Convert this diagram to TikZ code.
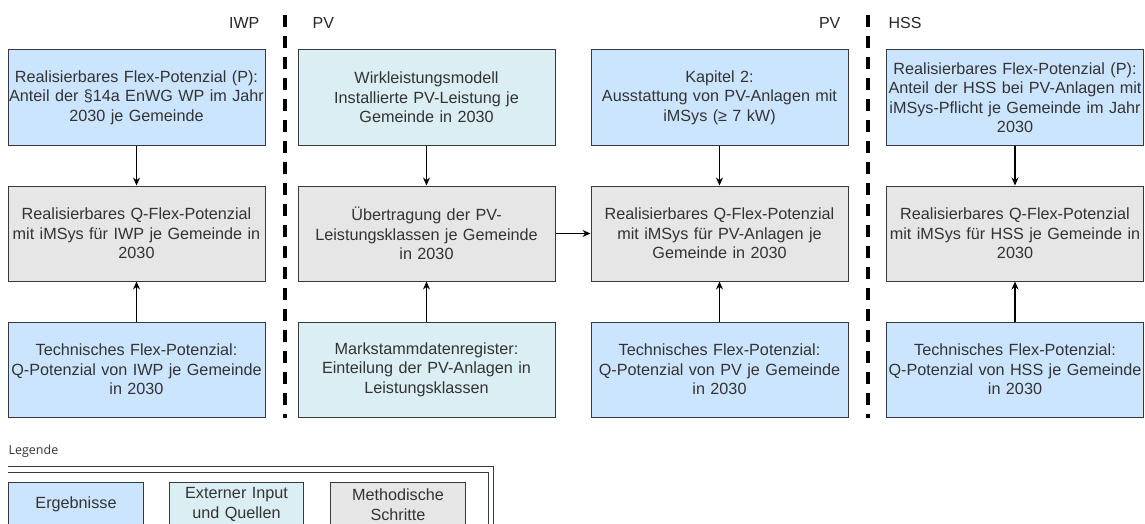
\documentclass[tikz,border=0pt]{standalone}
\usepackage{fontspec}
\setmainfont{Liberation Sans}
\newfontfamily\legfont{Open Sans}
\usetikzlibrary{arrows,arrows.meta,positioning}
\definecolor{ergblau}{HTML}{CCE5FF}
\definecolor{inputblau}{HTML}{DAEEF3}
\definecolor{methgrau}{HTML}{E6E6E6}
\definecolor{rand}{HTML}{36393D}

\begin{document}
\begin{tikzpicture}[x=1pt,y=-1pt,->,>={Stealth[length=8pt,width=7pt]},line width=1.2pt,
node distance=40pt]
\tikzstyle{box}=[rectangle,draw=rand,line width=1pt,minimum width=257pt,
minimum height=95pt,text width=255pt,align=center,inner sep=0pt,
font=\fontsize{16.2}{19.5}\selectfont,text=black!80]
\tikzstyle{ergebnis}=[box,fill=ergblau]
\tikzstyle{quelle}=[box,fill=inputblau]
\tikzstyle{methode}=[box,fill=methgrau]
\tikzstyle{spalte}=[font=\fontsize{16}{18}\selectfont,text=black!85,inner sep=0pt]
\tikzstyle{trenner}=[-,line width=4pt,dash pattern=on 12pt off 9pt]

\useasboundingbox (0,0) rectangle (1145,524);
\clip (0,0) rectangle (1145,524);

% IWP
\node[ergebnis] (iwpP) at (136.5,97.5) {Realisierbares Flex-Potenzial (P):\\Anteil der §14a EnWG WP im Jahr\\2030 je Gemeinde};
\node[methode]  (iwpQ) [below=of iwpP] {Realisierbares Q-Flex-Potenzial\\mit iMSys für IWP je Gemeinde in\\2030};
\node[ergebnis] (iwpT) [below=of iwpQ] {Technisches Flex-Potenzial:\\Q-Potenzial von IWP je Gemeinde\\in 2030};

% PV Input
\node[quelle]   (pvWirk) at (426.5,97.5) {Wirkleistungsmodell\\Installierte PV-Leistung je\\Gemeinde in 2030};
\node[methode]  (pvUeb)  [below=of pvWirk] {Übertragung der PV-\\Leistungsklassen je Gemeinde\\in 2030};
\node[quelle]   (pvMaStR) [below=of pvUeb] {Markstammdatenregister:\\Einteilung der PV-Anlagen in\\Leistungsklassen};

% PV
\node[ergebnis] (pvKap) at (719.5,97.5) {Kapitel 2:\\Ausstattung von PV-Anlagen mit\\iMSys (≥ 7 kW)};
\node[methode]  (pvQ)   [below=of pvKap] {Realisierbares Q-Flex-Potenzial\\mit iMSys für PV-Anlagen je\\Gemeinde in 2030};
\node[ergebnis] (pvT)   [below=of pvQ] {Technisches Flex-Potenzial:\\Q-Potenzial von PV je Gemeinde\\in 2030};

% HSS
\node[ergebnis] (hssP) at (1015,97.5) {Realisierbares Flex-Potenzial (P):\\Anteil der HSS bei PV-Anlagen mit\\iMSys-Pflicht je Gemeinde im Jahr\\2030};
\node[methode]  (hssQ) [below=of hssP] {Realisierbares Q-Flex-Potenzial\\mit iMSys für HSS je Gemeinde in\\2030};
\node[ergebnis] (hssT) [below=of hssQ] {Technisches Flex-Potenzial:\\Q-Potenzial von HSS je Gemeinde\\in 2030};

\path (iwpP) edge (iwpQ)
(iwpT) edge (iwpQ)
(pvWirk) edge (pvUeb)
(pvMaStR) edge (pvUeb)
(pvUeb) edge (pvQ)
(pvKap) edge (pvQ)
(pvT) edge (pvQ)
(hssP) edge (hssQ)
(hssT) edge (hssQ);

% Trennlinien und Spaltentitel
\coordinate (t1o) at (285,15);
\coordinate (t1u) at (285,418);
\coordinate (t2o) at (868,15);
\coordinate (t2u) at (868,418);
\draw[trenner] (t1o) -- (t1u);
\draw[trenner] (t2o) -- (t2u);
\node[spalte,anchor=east] (lIWP) at (260,23) {IWP};
\node[spalte,anchor=west] (lPV1) at (312,23) {PV};
\node[spalte,anchor=east] (lPV2) at (841,23) {PV};
\node[spalte,anchor=west] (lHSS) at (888,23) {HSS};

% Legende
\node[anchor=west,inner sep=0pt,font=\legfont\fontsize{12.5}{14}\selectfont,text=black!80] (leg) at (8,451) {Legende};
\draw[-,draw=rand,line width=0.8pt] (8,466) -- (493,466) -- (493,530);
\draw[-,draw=rand,line width=0.8pt] (8,472) -- (488,472) -- (488,530);
\node[ergebnis,anchor=north west,minimum width=135pt,minimum height=44pt,text width=133pt] (legE) at (8,482) {Ergebnisse};
\node[quelle,anchor=north west,minimum width=134pt,minimum height=44pt,text width=133pt] (legQ) at (169,482) {Externer Input\\und Quellen};
\node[methode,anchor=north west,minimum width=135pt,minimum height=44pt,text width=133pt] (legM) at (330,482) {Methodische\\Schritte};
\end{tikzpicture}
\end{document}
